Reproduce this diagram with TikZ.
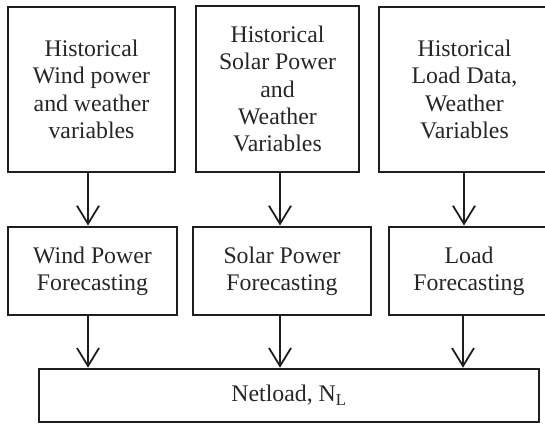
\documentclass[tikz,border=0pt]{standalone}
\usepackage{fontspec}
\setmainfont{Liberation Serif}
\usetikzlibrary{arrows.meta}
\tikzset{
  box/.style={draw=black!88, line width=2pt, align=center, inner sep=0pt,
    font=\fontsize{23.8}{27.3}\selectfont, text=black!85},
  arr/.style={draw=black!88, line width=1.8pt, -{Straight Barb[length=18pt,width=22pt,line width=1.8pt]}, shorten >=0.5pt}
}
\begin{document}
\begin{tikzpicture}[x=1pt,y=1pt]
\useasboundingbox (0,0) rectangle (545,423);
\clip (0,0) rectangle (545,423);
\node[box, minimum width=167pt, minimum height=165pt] (t1) at (91.5,333.5)
  {Historical\\Wind power\\and weather\\variables};
\node[box, minimum width=163pt, minimum height=166pt] (t2) at (277.5,334)
  {Historical\\Solar Power\\and\\Weather\\Variables};
\node[box, minimum width=171pt, minimum height=165pt] (t3) at (464.5,333.5)
  {Historical\\Load Data,\\Weather\\Variables};
\node[box, minimum width=169pt, minimum height=88pt] (m1) at (92.5,152)
  {Wind Power\\Forecasting};
\node[box, minimum width=178pt, minimum height=88pt] (m2) at (282,152)
  {Solar Power\\Forecasting};
\node[box, minimum width=160pt, minimum height=88pt] (m3) at (469,152)
  {Load\\Forecasting};
\node[box, minimum width=500pt, minimum height=52.5pt] (n) at (289,27.5)
  {Netload, N\textsubscript{L}};
\draw[arr] ([xshift=-3.5pt]t1.south) -- ([xshift=-3.5pt]t1.south |- m1.north);
\draw[arr] ([xshift=2.5pt]t2.south) -- ([xshift=2.5pt]t2.south |- m2.north);
\draw[arr] ([xshift=-0.5pt]t3.south) -- ([xshift=-0.5pt]t3.south |- m3.north);
\draw[arr] ([xshift=-4.5pt]m1.south) -- ([xshift=-4.5pt]m1.south |- n.north);
\draw[arr] ([xshift=-2pt]m2.south) -- ([xshift=-2pt]m2.south |- n.north);
\draw[arr] ([xshift=-6pt]m3.south) -- ([xshift=-6pt]m3.south |- n.north);
\end{tikzpicture}
\end{document}
